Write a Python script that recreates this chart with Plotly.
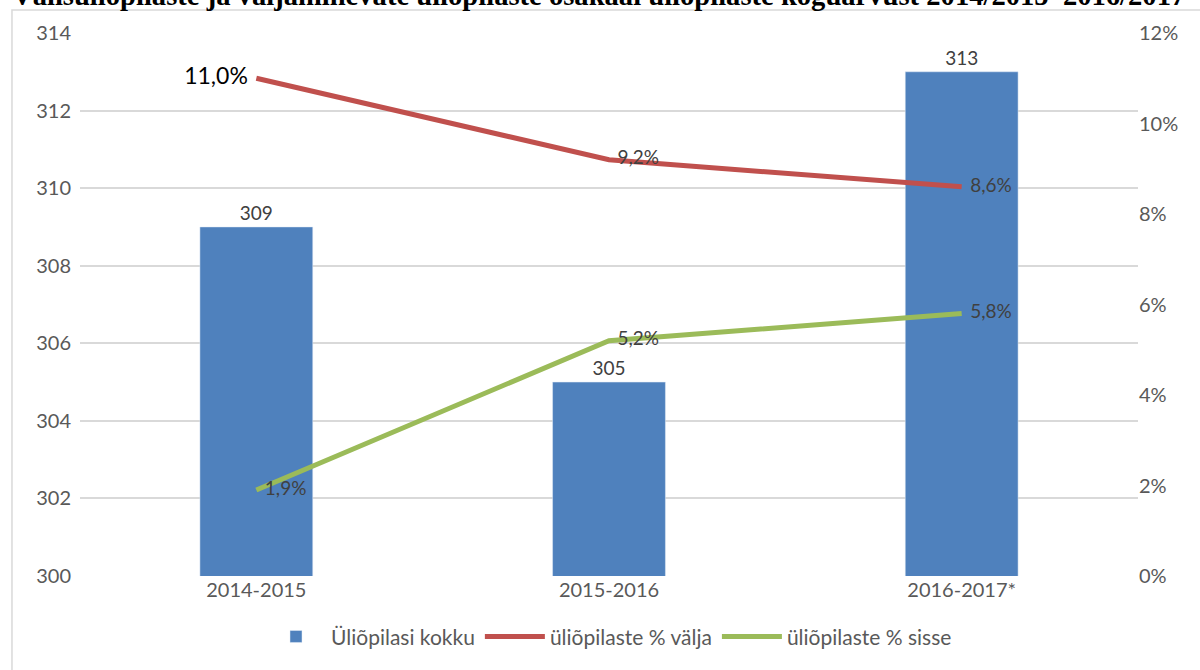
import plotly.graph_objects as go

# data
years = ["2014-2015", "2015-2016", "2016-2017*"]
students_total = [309, 305, 313]
pct_out = [0.110, 0.092, 0.086]
pct_in = [0.019, 0.052, 0.058]

title_text = ("Välisüliõpilaste ja väljaminevate üliõpilaste osakaal "
              "üliõpilaste koguarvust 2014/2015–2016/2017")

blue = "#4F81BD"
red = "#C0504D"
green = "#9BBB59"
grey_txt = "#595959"
lab_txt = "#404040"
font = "Lato, Carlito, Liberation Sans, sans-serif"


def pct_label(v):
    return f"{v * 100:.1f}%".replace(".", ",")


fig = go.Figure()

fig.add_trace(go.Bar(
    x=years, y=students_total, name="Üliõpilasi kokku",
    marker_color=blue,
    text=[str(v) for v in students_total], textposition="outside",
    textfont=dict(size=19, color=lab_txt, family=font),
    cliponaxis=False,
))

fig.add_trace(go.Scatter(
    x=years, y=pct_out, name="üliõpilaste % välja", yaxis="y2",
    mode="lines", line=dict(color=red, width=5),
))

fig.add_trace(go.Scatter(
    x=years, y=pct_in, name="üliõpilaste % sisse", yaxis="y2",
    mode="lines", line=dict(color=green, width=5),
))

# data labels for the lines (invisible markers only push the text off the point)
fig.add_trace(go.Scatter(
    x=years, y=pct_out, yaxis="y2", showlegend=False, hoverinfo="skip",
    mode="markers+text", marker=dict(size=12, opacity=0),
    text=[pct_label(v) for v in pct_out],
    textposition=["middle left", "middle right", "middle right"],
    textfont=dict(size=[23, 19, 19], color=["#000000", lab_txt, lab_txt], family=font),
    cliponaxis=False,
))

fig.add_trace(go.Scatter(
    x=years, y=pct_in, yaxis="y2", showlegend=False, hoverinfo="skip",
    mode="markers+text", marker=dict(size=12, opacity=0),
    text=[pct_label(v) for v in pct_in],
    textposition="middle right",
    textfont=dict(size=19, color=lab_txt, family=font),
    cliponaxis=False,
))

fig.update_layout(
    width=1200, height=670,
    margin=dict(l=80, r=62, t=33, b=94),
    paper_bgcolor="white", plot_bgcolor="white",
    font=dict(family=font, size=20, color=grey_txt),
    bargap=0.68,
    showlegend=True,
    legend=dict(orientation="h", x=0.5, xanchor="center", y=-0.112, yanchor="middle",
                font=dict(size=21, color=grey_txt), traceorder="normal", itemwidth=60),
    xaxis=dict(showgrid=False, showline=False, ticks="", tickfont=dict(size=20)),
    yaxis=dict(range=[300, 314], dtick=2, showgrid=True, gridcolor="#D9D9D9", gridwidth=1.5,
               zeroline=False, showline=False, ticks="", tickfont=dict(size=20),
               ticklabelstandoff=8),
    yaxis2=dict(range=[0, 0.12], dtick=0.02, tickformat=".0%", overlaying="y", side="right",
                showgrid=False, zeroline=False, showline=False, ticks="", tickfont=dict(size=20)),
    shapes=[dict(type="rect", xref="paper", yref="paper", x0=-0.0643, x1=1.2, y0=-0.5, y1=1.0424,
                 line=dict(color="#D9D9D9", width=1.5), fillcolor="rgba(0,0,0,0)", layer="below")],
    annotations=[dict(text="<b>" + title_text + "</b>", xref="paper", yref="paper", x=0, y=1,
                      xanchor="left", yanchor="bottom", xshift=-70, yshift=20, showarrow=False,
                      font=dict(family="Liberation Serif, serif", size=28.6, color="#000000"))],
)

fig.write_html("out.html", config={"displayModeBar": False},
               post_script="document.body.style.margin='0';document.body.style.overflow='hidden';")
